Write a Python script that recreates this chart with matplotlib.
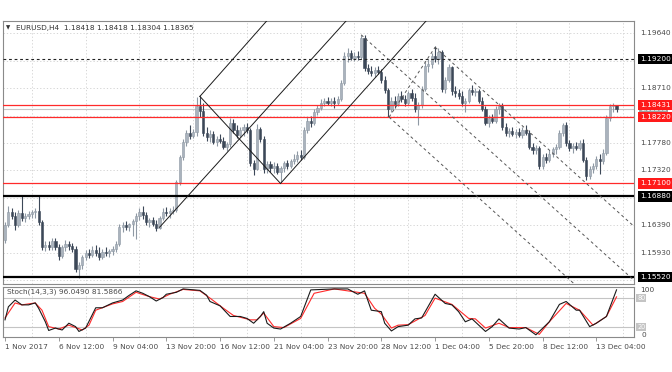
import matplotlib
matplotlib.use('Agg')
import matplotlib.pyplot as plt
import numpy as np
from matplotlib.transforms import blended_transform_factory

# ---------------- data ----------------
symbol_header = "EURUSD,H4  1.18418 1.18418 1.18304 1.18365"
stoch_header = "Stoch(14,3,3) 96.0490 81.5866"

opens = [1.1615,1.1640,1.1662,1.1655,1.1640,1.1660,1.1652,1.1655,1.1658,1.1662,
         1.1664,1.1645,1.1603,1.1606,1.1602,1.1612,1.1603,1.1588,1.1602,1.1608,
         1.1604,1.1600,1.1565,1.1572,1.1585,1.1592,1.1590,1.1598,1.1593,1.1586,
         1.1595,1.1592,1.1596,1.1600,1.1608,1.1636,1.1640,1.1636,1.1641,1.1646,
         1.1655,1.1662,1.1656,1.1645,1.1648,1.1642,1.1634,1.1652,1.1662,1.1660,
         1.1664,1.1666,1.1712,1.1754,1.1780,1.1796,1.1790,1.1797,1.1840,1.1832,
         1.1796,1.1788,1.1794,1.1780,1.1785,1.1782,1.1772,1.1776,1.1812,1.1800,
         1.1792,1.1800,1.1806,1.1800,1.1745,1.1735,1.1802,1.1785,1.1735,1.1742,
         1.1736,1.1740,1.1730,1.1736,1.1744,1.1740,1.1748,1.1752,1.1758,1.1755,
         1.1800,1.1816,1.1812,1.1830,1.1838,1.1846,1.1850,1.1845,1.1849,1.1846,
         1.1853,1.1880,1.1926,1.1930,1.1922,1.1926,1.1924,1.1955,1.1905,1.1900,
         1.1896,1.1902,1.1898,1.1885,1.1868,1.1836,1.1850,1.1844,1.1858,1.1852,
         1.1846,1.1862,1.1855,1.1836,1.1842,1.1870,1.1908,1.1912,1.1925,1.1920,
         1.1932,1.1870,1.1885,1.1906,1.1866,1.1862,1.1858,1.1846,1.1850,1.1868,
         1.1864,1.1866,1.1850,1.1836,1.1812,1.1820,1.1816,1.1835,1.1840,1.1806,
         1.1795,1.1798,1.1794,1.1797,1.1792,1.1800,1.1796,1.1772,1.1766,1.1770,
         1.1740,1.1755,1.1750,1.1760,1.1768,1.1772,1.1795,1.1808,1.1778,1.1770,
         1.1774,1.1770,1.1778,1.1750,1.1722,1.1735,1.1740,1.1752,1.1748,1.1762,
         1.1820,1.1840,1.18418]
highs = [1.1645,1.1672,1.1668,1.1662,1.1665,1.1688,1.1660,1.1664,1.1666,1.1668,
         1.1688,1.1648,1.1612,1.1612,1.1618,1.1618,1.1608,1.1606,1.1614,1.1612,
         1.1610,1.1604,1.1578,1.1590,1.1598,1.1600,1.1605,1.1606,1.1603,1.1600,
         1.1602,1.1600,1.1604,1.1612,1.1642,1.1645,1.1646,1.1644,1.1650,1.1660,
         1.1668,1.1672,1.1662,1.1652,1.1654,1.1648,1.1655,1.1668,1.1670,1.1668,
         1.1672,1.1716,1.1758,1.1785,1.1800,1.1808,1.1802,1.1856,1.1858,1.1845,
         1.1805,1.1800,1.1798,1.1790,1.1794,1.1788,1.1780,1.1820,1.1818,1.1808,
         1.1805,1.1810,1.1812,1.1804,1.1750,1.1810,1.1806,1.1790,1.1748,1.1748,
         1.1746,1.1745,1.1740,1.1748,1.1750,1.1752,1.1760,1.1764,1.1766,1.1805,
         1.1822,1.1824,1.1836,1.1842,1.1852,1.1855,1.1856,1.1854,1.1856,1.1858,
         1.1884,1.1932,1.1938,1.1936,1.1932,1.1934,1.1961,1.1960,1.1912,1.1908,
         1.1906,1.1908,1.1904,1.1892,1.1872,1.1856,1.1858,1.1862,1.1866,1.1860,
         1.1866,1.1870,1.1862,1.1848,1.1875,1.1915,1.1920,1.1930,1.1942,1.1938,
         1.1936,1.1890,1.1912,1.1908,1.1874,1.1870,1.1866,1.1854,1.1872,1.1876,
         1.1872,1.1870,1.1856,1.1840,1.1826,1.1828,1.1840,1.1846,1.1846,1.1812,
         1.1804,1.1805,1.1802,1.1804,1.1806,1.1808,1.1800,1.1778,1.1775,1.1774,
         1.1760,1.1762,1.1766,1.1772,1.1776,1.1800,1.1812,1.1814,1.1784,1.1778,
         1.1780,1.1784,1.1785,1.1754,1.1740,1.1745,1.1756,1.1760,1.1768,1.1825,
         1.1844,1.1846,1.18418]
lows = [1.1610,1.1636,1.1650,1.1632,1.1636,1.1646,1.1645,1.1650,1.1652,1.1652,
        1.1640,1.1598,1.1596,1.1598,1.1598,1.1598,1.1580,1.1584,1.1596,1.1598,
        1.1594,1.1560,1.1551,1.1566,1.1580,1.1584,1.1585,1.1588,1.1580,1.1582,
        1.1588,1.1586,1.1590,1.1594,1.1604,1.1628,1.1632,1.1630,1.1622,1.1617,
        1.1648,1.1650,1.1640,1.1636,1.1638,1.1630,1.1633,1.1648,1.1655,1.1652,
        1.1658,1.1662,1.1708,1.1750,1.1774,1.1785,1.1786,1.1790,1.1822,1.1790,
        1.1782,1.1780,1.1776,1.1774,1.1778,1.1768,1.1765,1.1772,1.1795,1.1786,
        1.1788,1.1790,1.1795,1.1740,1.1725,1.1732,1.1780,1.1728,1.1728,1.1730,
        1.1728,1.1726,1.1710,1.1730,1.1734,1.1736,1.1742,1.1746,1.1750,1.1752,
        1.1796,1.1806,1.1808,1.1825,1.1834,1.1840,1.1842,1.1840,1.1838,1.1843,
        1.1850,1.1876,1.1915,1.1918,1.1916,1.1918,1.1920,1.1900,1.1895,1.1892,
        1.1890,1.1894,1.1880,1.1862,1.1822,1.1830,1.1838,1.1840,1.1848,1.1840,
        1.1842,1.1850,1.1830,1.1808,1.1838,1.1866,1.1898,1.1905,1.1915,1.1912,
        1.1865,1.1862,1.1882,1.1860,1.1856,1.1852,1.1840,1.1830,1.1846,1.1860,
        1.1858,1.1845,1.1832,1.1808,1.1806,1.1812,1.1812,1.1828,1.1800,1.1790,
        1.1788,1.1790,1.1786,1.1788,1.1786,1.1792,1.1768,1.1760,1.1760,1.1735,
        1.1734,1.1745,1.1746,1.1755,1.1760,1.1768,1.1790,1.1774,1.1765,1.1762,
        1.1766,1.1766,1.1746,1.1716,1.1718,1.1728,1.1734,1.1726,1.1742,1.1758,
        1.1815,1.1830,1.18304]
closes = [1.1640,1.1662,1.1655,1.1640,1.1660,1.1652,1.1655,1.1658,1.1662,1.1664,
          1.1645,1.1603,1.1606,1.1602,1.1612,1.1603,1.1588,1.1602,1.1608,1.1604,
          1.1600,1.1565,1.1572,1.1585,1.1592,1.1590,1.1598,1.1593,1.1586,1.1595,
          1.1592,1.1596,1.1600,1.1608,1.1636,1.1640,1.1636,1.1641,1.1646,1.1655,
          1.1662,1.1656,1.1645,1.1648,1.1642,1.1634,1.1652,1.1662,1.1660,1.1664,
          1.1666,1.1712,1.1754,1.1780,1.1796,1.1790,1.1797,1.1840,1.1832,1.1796,
          1.1788,1.1794,1.1780,1.1785,1.1782,1.1772,1.1776,1.1812,1.1800,1.1792,
          1.1800,1.1806,1.1800,1.1745,1.1735,1.1802,1.1785,1.1735,1.1742,1.1736,
          1.1740,1.1730,1.1736,1.1744,1.1740,1.1748,1.1752,1.1758,1.1755,1.1800,
          1.1816,1.1812,1.1830,1.1838,1.1846,1.1850,1.1845,1.1849,1.1846,1.1853,
          1.1880,1.1926,1.1930,1.1922,1.1926,1.1924,1.1955,1.1905,1.1900,1.1896,
          1.1902,1.1898,1.1885,1.1868,1.1836,1.1850,1.1844,1.1858,1.1852,1.1846,
          1.1862,1.1855,1.1836,1.1842,1.1870,1.1908,1.1912,1.1925,1.1920,1.1932,
          1.1870,1.1885,1.1906,1.1866,1.1862,1.1858,1.1846,1.1850,1.1868,1.1864,
          1.1866,1.1850,1.1836,1.1812,1.1820,1.1816,1.1835,1.1840,1.1806,1.1795,
          1.1798,1.1794,1.1797,1.1792,1.1800,1.1796,1.1772,1.1766,1.1770,1.1740,
          1.1755,1.1750,1.1760,1.1768,1.1772,1.1795,1.1808,1.1778,1.1770,1.1774,
          1.1770,1.1778,1.1750,1.1722,1.1735,1.1740,1.1752,1.1748,1.1762,1.1820,
          1.1840,1.1842,1.18365]

stoch_k_idx = [0,1,3,5,7,9,10,12,13,15,17,19,21,22,24,27,29,32,35,37,
               39,41,43,45,47,48,51,53,58,60,61,64,67,70,72,74,76,77,78,80,
               82,85,88,91,98,102,105,107,109,112,113,115,117,120,122,124,128,131,133,135,
               137,139,143,145,147,150,153,155,158,162,165,167,170,171,174,176,179,182]
stoch_k = [34,61,75,65,65,69,58,30,12,17,13,27,20,10,17,59,59,69,75,85,
           94,89,82,73,80,87,91,98,95,85,72,63,41,41,37,27,41,51,27,17,
           15,27,41,96,98,98,87,94,54,51,27,11,20,23,36,38,87,68,65,51,
           30,36,10,20,36,17,15,18,3,30,66,72,54,54,20,27,41,96.05]
stoch_d_idx = [0,3,5,9,11,13,16,19,23,25,27,32,35,39,43,46,49,53,58,61,
               65,68,73,75,77,80,83,88,92,98,105,107,110,112,115,117,120,125,128,133,
               138,140,143,147,150,155,159,162,167,171,175,179,182]
stoch_d = [38,69,65,69,54,20,15,23,13,23,54,67,72,91,82,77,87,97,94,79,
           58,43,34,34,48,20,18,37,89,98,91,89,58,46,17,23,24,43,79,66,
           37,36,17,27,18,18,4,30,68,54,23,41,81.59]

# horizontal levels drawn on the chart
red_levels = [1.18431, 1.18220, 1.17100]
black_levels = [1.16880, 1.15520]
dotted_level = 1.19200
bid_price = 1.18365
price_grid = [1.19640, 1.19175, 1.18710, 1.18245, 1.17780, 1.17320, 1.16855, 1.16390, 1.15930, 1.15465]
shown_grid_prices = [1.19640, 1.18710, 1.17780, 1.17320, 1.16390, 1.15930]
shown_grid_labels = ["1.19640", "1.18710", "1.17780", "1.17320", "1.16390", "1.15930"]

# trend lines: (bar0, price0, bar1, price1)
solid_lines = [(46, 1.1636, 104, 1.2000),
               (58, 1.1857, 80, 1.1998),
               (58, 1.1857, 82, 1.1710),
               (82, 1.1710, 127, 1.1995)]
dashed_lines = [(114.3, 1.1822, 128, 1.1940),
                (128, 1.1940, 192, 1.1613),
                (106, 1.1961, 192, 1.1522),
                (114.3, 1.1822, 192, 1.1425)]

date_idx = [0, 16, 32, 48, 64, 80, 96, 112, 128, 144, 160, 176]
date_labels = ["1 Nov 2017", "6 Nov 12:00", "9 Nov 04:00", "13 Nov 20:00", "16 Nov 12:00",
               "21 Nov 04:00", "23 Nov 20:00", "28 Nov 12:00", "1 Dec 04:00", "5 Dec 20:00",
               "8 Dec 12:00", "13 Dec 04:00"]

# ---------------- figure ----------------
W, H = 672, 372
plt.rcParams['font.family'] = ['DejaVu Sans']
FS = 5.3
TXT = '#4a4a4a'
fig = plt.figure(figsize=(W / 100, H / 100), dpi=100)
fig.patch.set_facecolor('white')


def px_axes(l, t, r, b):
    return fig.add_axes([l / W, 1 - b / H, (r - l) / W, (b - t) / H])


ax = px_axes(3, 21, 634, 284)
ax2 = px_axes(3, 287, 634, 337)
XL = (-0.6, 187.2)
for a in (ax, ax2):
    a.set_xlim(*XL)
    a.set_facecolor('white')
    for s in a.spines.values():
        s.set_color('#8a8a8a')
        s.set_linewidth(0.8)
    a.tick_params(left=False, right=False, labelleft=False, labelright=False)
ax.set_ylim(1.15402, 1.19843)
ax.tick_params(bottom=False, labelbottom=False)
ax2.set_ylim(-1.5, 102)

grid_kw = dict(color='#cfcfcf', lw=0.6, ls=(0, (1.5, 2.5)), zorder=0)
for gx in range(8, 188, 16):
    ax.axvline(gx, **grid_kw)
    ax2.axvline(gx, **grid_kw)
for gp in price_grid:
    ax.axhline(gp, **grid_kw)

# candles
o = np.array(opens); h = np.array(highs); l = np.array(lows); c = np.array(closes)
x = np.arange(len(o))
up = c >= o
BULL, BULL_E, BEAR = '#aab3bd', '#8f99a4', '#3c4858'
fc = np.where(up, BULL, BEAR)
ec = np.where(up, BULL_E, BEAR)
ax.vlines(x, l, h, colors=ec, lw=0.8, zorder=3)
ax.bar(x, np.maximum(np.abs(c - o), 0.00005), bottom=np.minimum(o, c), width=0.66,
       color=fc, edgecolor=ec, linewidth=0.4, zorder=4)

# levels
for lv in red_levels:
    ax.axhline(lv, color='#ff2a2a', lw=0.9, zorder=5)
for lv in black_levels:
    ax.axhline(lv, color='black', lw=1.6, zorder=5)
ax.axhline(dotted_level, color='#222222', lw=0.8, ls=(0, (2.5, 2.5)), zorder=5)
ax.axhline(bid_price, color='#c8c8c8', lw=0.8, zorder=2)

for (x0, y0, x1, y1) in solid_lines:
    ax.plot([x0, x1], [y0, y1], color='#1a1a1a', lw=0.7, zorder=6)
for (x0, y0, x1, y1) in dashed_lines:
    ax.plot([x0, x1], [y0, y1], color='#555555', lw=0.7, ls=(0, (3, 3)), zorder=6)

# price labels on right
tr = blended_transform_factory(fig.transFigure, ax.transData)
LX = 640 / W
for gp, gl in zip(shown_grid_prices, shown_grid_labels):
    ax.text(LX, gp, gl, transform=tr, fontsize=FS, color=TXT, va='center', ha='left',
            clip_on=False, zorder=1)
# current bid label, mostly hidden behind the 1.18431 box as in the original
ax.text(LX, bid_price - 0.00008, "1.18365", transform=tr, fontsize=FS - 0.6, color='white',
        va='center', ha='left', clip_on=False, zorder=20,
        bbox=dict(boxstyle='square,pad=0.2', fc='#a0a0a0', ec='none'))
box_specs = [(dotted_level, "1.19200", 'black'), (red_levels[0], "1.18431", '#ff1a1a'),
             (red_levels[1], "1.18220", '#ff1a1a'), (red_levels[2], "1.17100", '#ff1a1a'),
             (black_levels[0], "1.16880", 'black'), (black_levels[1], "1.15520", 'black')]
for lv, txt, col in box_specs:
    ax.text(LX, lv, txt, transform=tr, fontsize=FS, color='white', va='center', ha='left',
            clip_on=False, zorder=21,
            bbox=dict(boxstyle='square,pad=0.28', fc=col, ec='none'))

# header
fig.text(6 / W, 1 - 28 / H, '\u25bc', fontsize=4, color='#333333', va='center', ha='left')
fig.text(16 / W, 1 - 28 / H, symbol_header, fontsize=FS, color='#333333', va='center', ha='left')

# stochastic
ax2.axhline(80, color='#c4c4c4', lw=0.8, zorder=1)
ax2.axhline(20, color='#c4c4c4', lw=0.8, zorder=1)
ax2.plot(stoch_d_idx, stoch_d, color='#ff2a2a', lw=0.8, zorder=3)
ax2.plot(stoch_k_idx, stoch_k, color='#1a1a1a', lw=0.8, zorder=4)
fig.text(7 / W, 1 - 292 / H, stoch_header, fontsize=FS, color=TXT, va='center', ha='left')
tr2 = blended_transform_factory(fig.transFigure, ax2.transData)
ax2.text(LX, 95, "100", transform=tr2, fontsize=FS, color=TXT, va='center', ha='left', clip_on=False)
ax2.text(LX + 1 / W, 3, "0", transform=tr2, fontsize=FS, color=TXT, va='center', ha='left', clip_on=False)
for v in (80, 20):
    ax2.text(637 / W, v, str(v), transform=tr2, fontsize=FS - 0.6, color='white', va='center',
             ha='left', clip_on=False,
             bbox=dict(boxstyle='square,pad=0.15', fc='#c4c4c4', ec='none'))

ax2.set_xticks(date_idx)
ax2.set_xticklabels(date_labels, ha='left', fontsize=FS, color=TXT)
ax2.tick_params(axis='x', direction='out', length=3, width=0.6, color='#8a8a8a', pad=2)
ax2.set_yticks([])

fig.savefig('out.png', dpi=100, facecolor='white')
